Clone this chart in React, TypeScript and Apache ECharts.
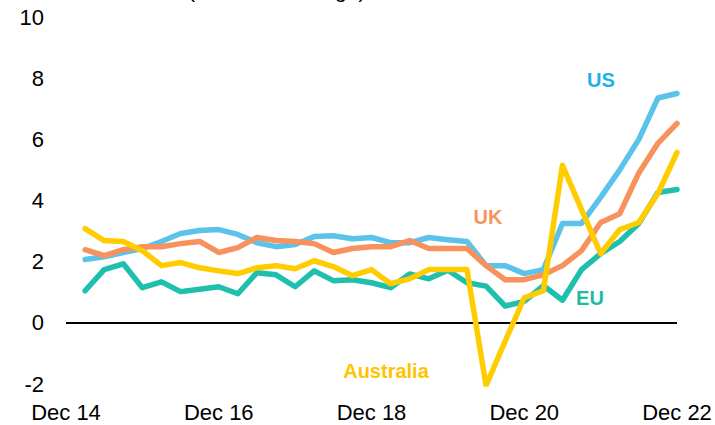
import React, { useEffect, useRef } from "react";
import * as echarts from "echarts";

const quarters: string[] = [
  "Dec 14",
  "Mar 15", "Jun 15", "Sep 15", "Dec 15",
  "Mar 16", "Jun 16", "Sep 16", "Dec 16",
  "Mar 17", "Jun 17", "Sep 17", "Dec 17",
  "Mar 18", "Jun 18", "Sep 18", "Dec 18",
  "Mar 19", "Jun 19", "Sep 19", "Dec 19",
  "Mar 20", "Jun 20", "Sep 20", "Dec 20",
  "Mar 21", "Jun 21", "Sep 21", "Dec 21",
  "Mar 22", "Jun 22", "Sep 22", "Dec 22",
];

const usValues: (number | null)[] = [
  null,
  2.07, 2.16, 2.3, 2.43, 2.66, 2.92, 3.02, 3.05, 2.89, 2.62,
  2.49, 2.56, 2.82, 2.85, 2.75, 2.79, 2.62, 2.62, 2.79, 2.72,
  2.66, 1.87, 1.87, 1.61, 1.74, 3.25, 3.25, 4.1, 5.0, 6.0,
  7.35, 7.5,
];

const ukValues: (number | null)[] = [
  null,
  2.39, 2.2, 2.39, 2.49, 2.49, 2.59, 2.66, 2.3, 2.46, 2.79,
  2.69, 2.66, 2.59, 2.3, 2.43, 2.49, 2.49, 2.69, 2.43, 2.43,
  2.43, 1.87, 1.41, 1.41, 1.57, 1.87, 2.36, 3.28, 3.57, 4.9,
  5.87, 6.52,
];

const euValues: (number | null)[] = [
  null,
  1.05, 1.74, 1.93, 1.15, 1.34, 1.02, 1.1, 1.18, 0.95, 1.64,
  1.57, 1.18, 1.7, 1.38, 1.41, 1.31, 1.15, 1.6, 1.44, 1.72,
  1.31, 1.2, 0.55, 0.7, 1.22, 0.74, 1.74, 2.26, 2.66, 3.25,
  4.26, 4.36,
];

const australiaValues: (number | null)[] = [
  null,
  3.08, 2.69, 2.66, 2.36, 1.87, 1.97, 1.8, 1.7, 1.61, 1.8,
  1.87, 1.77, 2.03, 1.84, 1.54, 1.74, 1.28, 1.44, 1.74, 1.74,
  1.74, -2.05, -0.6, 0.82, 1.05, 5.15, 3.7, 2.26, 3.05, 3.28,
  4.23, 5.57,
];

const seriesNames = ["US", "UK", "EU", "Australia"];
const lineColors = ["#5BC3EA", "#F7925E", "#1FBFAD", "#FFCC00"];
const labelColors = ["#1CB0EC", "#F7935C", "#1FBAA6", "#FFC400"];

const FONT = "'Liberation Sans', Arial, Helvetica, sans-serif";

export default function App() {
  const ref = useRef<HTMLDivElement>(null);

  useEffect(() => {
    if (!ref.current) return;
    const chart = echarts.init(ref.current, undefined, { renderer: "svg" });
    const allValues = [usValues, ukValues, euValues, australiaValues];

    const mkSeries = (i: number) => {
      const s: any = {
        name: seriesNames[i],
        type: "line",
        data: allValues[i],
        showSymbol: false,
        symbol: "none",
        smooth: false,
        connectNulls: false,
        lineStyle: { color: lineColors[i], width: 5.5, cap: "round", join: "round" },
        itemStyle: { color: lineColors[i] },
        z: 3 + i,
      };
      if (i === 0) {
        s.markLine = {
          silent: true,
          symbol: ["none", "none"],
          label: { show: false },
          lineStyle: { color: "#000000", width: 2, type: "solid" },
          data: [{ yAxis: 0 }],
          z: 1,
        };
      }
      return s;
    };

    const labelPos = [
      { x: 601, y: 80 },
      { x: 488, y: 217 },
      { x: 590, y: 298 },
      { x: 386, y: 371 },
    ];

    chart.setOption({
      animation: false,
      backgroundColor: "#ffffff",
      grid: { left: 66, right: 38, top: 17, bottom: 41, containLabel: false },
      xAxis: {
        type: "category",
        data: quarters,
        boundaryGap: false,
        axisLine: { show: false },
        axisTick: { show: false },
        splitLine: { show: false },
        axisLabel: {
          interval: 7,
          color: "#000000",
          fontSize: 22,
          fontFamily: FONT,
          margin: 17,
        },
      },
      yAxis: {
        type: "value",
        min: -2,
        max: 10,
        interval: 2,
        axisLine: { show: false },
        axisTick: { show: false },
        splitLine: { show: false },
        axisLabel: {
          color: "#000000",
          fontSize: 22,
          fontFamily: FONT,
          margin: 22,
          align: "right",
        },
      },
      series: [0, 1, 2, 3].map(mkSeries),
      graphic: [
        {
          type: "text",
          left: 188,
          top: -20,
          silent: true,
          style: {
            text: "(12-month change)",
            fill: "#000000",
            font: `21px ${FONT}`,
          },
        },
        ...seriesNames.map((n, i) => ({
          type: "text",
          x: labelPos[i].x,
          y: labelPos[i].y,
          silent: true,
          z: 10,
          style: {
            text: n,
            fill: labelColors[i],
            font: `bold 20px ${FONT}`,
            textAlign: "center",
            textVerticalAlign: "middle",
          },
        })),
      ],
    });

    return () => {
      chart.dispose();
    };
  }, []);

  return (
    <div
      ref={ref}
      style={{ width: 715, height: 425, position: "absolute", left: 0, top: 0 }}
    />
  );
}
